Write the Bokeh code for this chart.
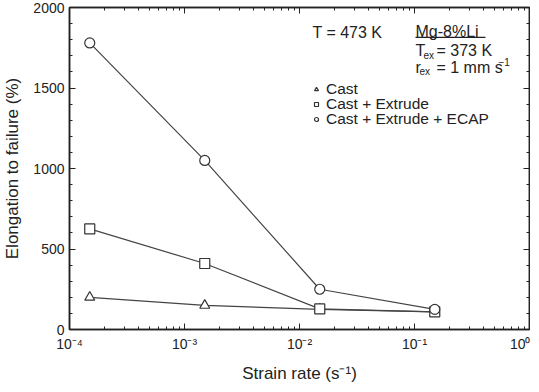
from bokeh.plotting import figure
from bokeh.models import (LogAxis, LinearAxis, SingleIntervalTicker, LogTicker,
                          CustomJSTickFormatter, Legend, LegendItem, Label, Range1d)
from bokeh.embed import file_html
from bokeh.resources import INLINE

# ---- data ----
strain_rate = [1.5e-4, 1.5e-3, 1.5e-2, 1.5e-1]
cast = [200, 150, 125, 110]
cast_extrude = [625, 410, 128, 110]
cast_extrude_ecap = [1780, 1050, 250, 125]
series_names = ["Cast", "Cast + Extrude", "Cast + Extrude + ECAP"]
y_ticks_interval = 500

FONT = "Liberation Sans"
INK = "#222222"
LINE = "#444444"

p = figure(frame_width=460, frame_height=322, x_axis_type="log",
           x_range=Range1d(1e-4, 1.0), y_range=Range1d(0, 2000),
           output_backend="svg", toolbar_location=None,
           min_border_left=62, min_border_right=1, min_border_top=7, min_border_bottom=54)
p.background_fill_color = "white"
p.border_fill_color = "white"
p.outline_line_color = INK
p.outline_line_width = 1.5
p.grid.visible = False

sup = CustomJSTickFormatter(code="""
const s = {"-":"\u207b","0":"\u2070","1":"\u00b9","2":"\u00b2","3":"\u00b3","4":"\u2074",
           "5":"\u2075","6":"\u2076","7":"\u2077","8":"\u2078","9":"\u2079"};
const e = Math.round(Math.log10(tick));
return "10" + String(e).split("").map(c => s[c]).join("");
""")

def style_axis(ax, labels=True):
    ax.axis_line_color = INK
    ax.axis_line_width = 1.5
    ax.major_tick_in = 6
    ax.major_tick_out = 0
    ax.minor_tick_in = 3
    ax.minor_tick_out = 0
    ax.major_tick_line_color = INK
    ax.minor_tick_line_color = INK
    ax.major_label_text_font = FONT
    ax.major_label_text_color = INK
    ax.major_label_text_font_size = "14px"
    ax.axis_label_text_font = FONT
    ax.axis_label_text_font_style = "normal"
    ax.axis_label_text_font_size = "17px"
    ax.axis_label_text_color = INK
    if not labels:
        ax.major_label_text_font_size = "1px"
        ax.major_label_text_color = None
        ax.major_label_standoff = 0

p.xaxis.ticker = LogTicker(num_minor_ticks=10)
p.xaxis.formatter = sup
p.xaxis.axis_label = "Strain rate (s\u207b\u00b9)"
p.xaxis.major_label_standoff = 6
p.xaxis.axis_label_standoff = 9
style_axis(p.xaxis[0])

p.yaxis.ticker = SingleIntervalTicker(interval=y_ticks_interval, num_minor_ticks=5)
p.yaxis.axis_label = "Elongation to failure (%)"
p.yaxis.major_label_standoff = 5
p.yaxis.axis_label_standoff = 8
style_axis(p.yaxis[0])

top = LogAxis(ticker=LogTicker(num_minor_ticks=10))
style_axis(top, labels=False)
top.axis_label = "."
top.axis_label_text_font_size = "5px"
top.axis_label_text_color = None
top.axis_label_standoff = 0
p.add_layout(top, "above")
right = LinearAxis(ticker=SingleIntervalTicker(interval=y_ticks_interval, num_minor_ticks=5))
style_axis(right, labels=False)
p.add_layout(right, "right")

markers = ["triangle", "square", "circle"]
rows_y = [231, 216, 201]
for name, vals, mk, ry in zip(series_names, [cast, cast_extrude, cast_extrude_ecap],
                              markers, rows_y):
    p.line(strain_rate, vals, line_color=LINE, line_width=1.2)
    r = p.scatter(strain_rate, vals, marker=mk, size=10, fill_color="white",
                  line_color="#333333", line_width=1.2)
    leg = Legend(items=[LegendItem(label=name, renderers=[r])], location=(242, ry),
                 border_line_color=None, background_fill_alpha=0,
                 glyph_width=10, glyph_height=14, label_standoff=5,
                 spacing=0, padding=0, margin=0,
                 label_text_font=FONT, label_text_font_size="15.5px",
                 label_text_color=INK, label_height=14)
    p.add_layout(leg)

def lab(x, y, text, size="16px", xo=0, yo=0):
    p.add_layout(Label(x=x, y=y, text=text, x_offset=xo, y_offset=yo,
                       text_font=FONT, text_font_size=size, text_color=INK,
                       text_baseline="alphabetic"))

# annotations (positions in data space)
lab(0.01297, 1845, "T = 473 K")
xa = 0.102
lab(xa, 1850, "Mg-8%Li")
p.segment(x0=[xa], y0=[1814], x1=[0.414], y1=[1814], line_color=INK, line_width=1.2)
lab(xa, 1731, "T")
lab(xa, 1731, "ex", size="10px", xo=8, yo=-5)
lab(xa, 1731, "= 373 K", xo=21)
lab(xa, 1627, "r")
lab(xa, 1627, "ex", size="10px", xo=4, yo=-4)
lab(xa, 1627, "= 1 mm s", xo=21)
lab(xa, 1627, "\u22121", size="10px", xo=83, yo=6)

open("out.html", "w").write(file_html(p, INLINE))
